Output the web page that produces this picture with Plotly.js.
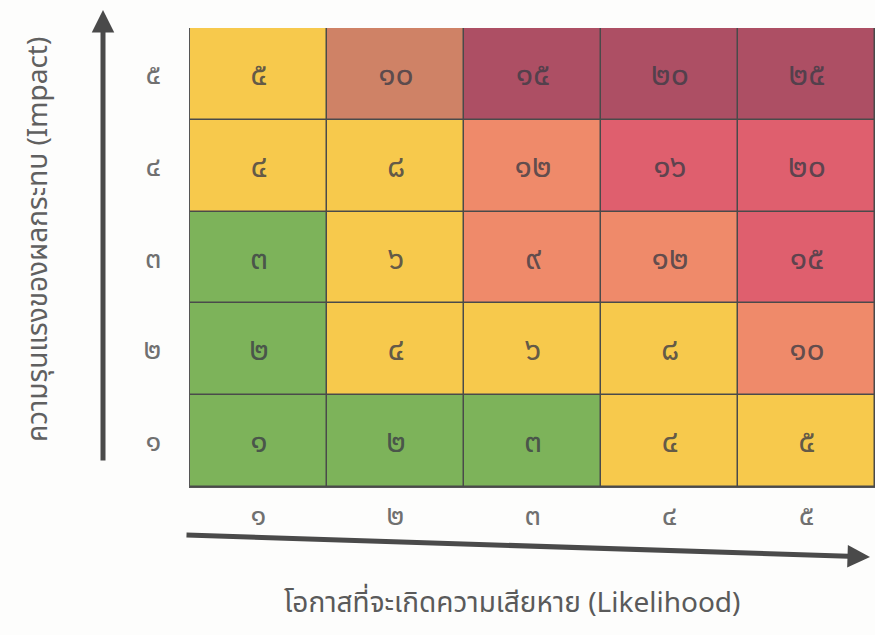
<!DOCTYPE html>
<html>
<head>
<meta charset="utf-8">
<script src="https://cdn.plot.ly/plotly-3.0.1.min.js"></script>
<style>
html,body{margin:0;padding:0;background:#fdfdfc;}
#chart{width:875px;height:635px;}
</style>
</head>
<body>
<div id="chart"></div>
<script>
// ---- data ----
var likelihoodLabels = ['๑','๒','๓','๔','๕'];
var impactLabels = ['๑','๒','๓','๔','๕'];
var likelihood = [1,2,3,4,5];
var impact = [1,2,3,4,5];
// risk score per cell, rows = impact 1..5, cols = likelihood 1..5
var scores = [
  [1,2,3,4,5],
  [2,4,6,8,10],
  [3,6,9,12,15],
  [4,8,12,16,20],
  [5,10,15,20,25]
];
// colour class per cell: 0 green, 1 yellow, 2 brown, 3 maroon, 4 salmon, 5 red
var colourClass = [
  [0,0,0,1,1],
  [0,1,1,1,4],
  [0,1,4,4,5],
  [1,1,4,5,5],
  [1,2,3,3,3]
];
var classColours = ['#7db35a','#f7c94c','#cf8266','#ad4f64','#ef8a6a','#df5f6e'];
var xTitle = 'โอกาสที่จะเกิดความเสียหาย (Likelihood)';
var yTitle = 'ความรุนแรงของผลกระทบ (Impact)';

var thaiDigits = ['๐','๑','๒','๓','๔','๕','๖','๗','๘','๙'];
function toThai(n){ return String(n).split('').map(function(d){return thaiDigits[+d];}).join(''); }
var scoreText = scores.map(function(r){ return r.map(toThai); });

var cs = [];
var nC = classColours.length;
classColours.forEach(function(c,i){
  cs.push([i/nC, c]); cs.push([(i+1)/nC, c]);
});
cs[cs.length-1][0] = 1;

var font = "'Noto Sans Thai','Noto Sans','DejaVu Sans',sans-serif";

var trace = {
  type:'heatmap',
  x: likelihood, y: impact,
  z: colourClass,
  zmin: -0.5, zmax: nC-0.5,
  colorscale: cs,
  showscale:false,
  text: scoreText,
  texttemplate:'%{text}',
  textfont:{size:32, color:'rgba(60,60,70,0.8)', family:font},
  xgap:1.5, ygap:1.5,
  hoverinfo:'skip'
};

var layout = {
  width:875, height:635,
  margin:{l:190, r:0, t:28, b:148},
  paper_bgcolor:'#fdfdfc',
  plot_bgcolor:'#4a4a4a',
  showlegend:false,
  xaxis:{
    range:[0.5,5.5], tickvals:likelihood, ticktext:likelihoodLabels,
    showgrid:false, zeroline:false, showline:true, linecolor:'#555', linewidth:1,
    ticks:'', ticklabelstandoff:2,
    tickfont:{size:29, color:'#707070', family:font}, fixedrange:true
  },
  yaxis:{
    range:[0.5,5.5], tickvals:impact, ticktext:impactLabels,
    showgrid:false, zeroline:false, showline:true, linecolor:'#555', linewidth:1,
    ticks:'', ticklabelstandoff:22,
    tickfont:{size:29, color:'#707070', family:font}, fixedrange:true
  },
  annotations:[
    {xref:'paper', yref:'paper', x:(512-190)/685, y:(487-603)/459, text:xTitle,
     showarrow:false, font:{size:28, color:'#5a5a5a', family:font}, xanchor:'center', yanchor:'middle'},
    {xref:'paper', yref:'paper', x:(38-190)/685, y:(487-240)/459, text:yTitle, textangle:-90,
     showarrow:false, font:{size:28, color:'#606060', family:font}, xanchor:'center', yanchor:'middle'},
    {xref:'paper', yref:'paper', x:(103-190)/685, y:(487-10)/459, ax:0, ay:452, text:'',
     showarrow:true, arrowhead:2, arrowsize:0.9, arrowwidth:5, arrowcolor:'#4a4a4a'},
    {xref:'paper', yref:'paper', x:(870-190)/685, y:(487-557)/459, ax:-685, ay:-22, text:'',
     showarrow:true, arrowhead:2, arrowsize:0.9, arrowwidth:5, arrowcolor:'#4a4a4a'}
  ]
};

Plotly.newPlot('chart',[trace],layout,{staticPlot:true, displayModeBar:false});
</script>
</body>
</html>
